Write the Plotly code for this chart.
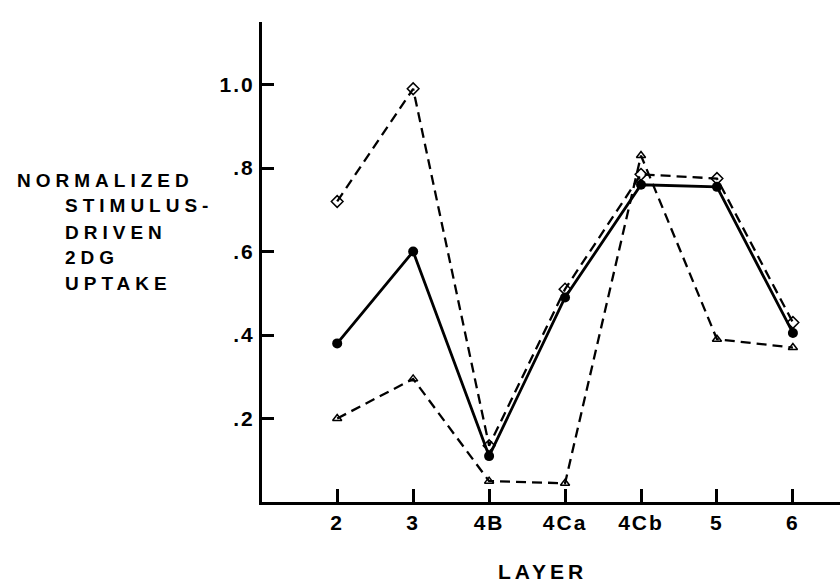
import plotly.graph_objects as go

layers = ["2", "3", "4B", "4Ca", "4Cb", "5", "6"]
mean_uptake = [0.38, 0.60, 0.11, 0.49, 0.76, 0.755, 0.405]
diamond_uptake = [0.72, 0.99, 0.135, 0.51, 0.785, 0.775, 0.43]
triangle_uptake = [0.20, 0.295, 0.05, 0.045, 0.83, 0.39, 0.37]
y_ticks = [0.2, 0.4, 0.6, 0.8, 1.0]
y_tick_labels = [".2", ".4", ".6", ".8", "1.0"]
y_title_lines = ["NORMALIZED", "STIMULUS-", "DRIVEN", "2DG", "UPTAKE"]
x_title = "LAYER"

FONT = "Liberation Sans, Arial, sans-serif"
W, H = 840, 583
L, R, T, B = 262, 0, 22, 81


def spaced(txt, px):
    return '<b><span style="letter-spacing:%spx">%s</span></b>' % (px, txt)


fig = go.Figure()
fig.add_trace(go.Scatter(
    x=layers, y=diamond_uptake, mode="lines+markers",
    line=dict(color="black", width=2.3, dash="10px,6px"),
    marker=dict(symbol="diamond-open", size=9, color="black", line=dict(width=1.5)),
    showlegend=False))
fig.add_trace(go.Scatter(
    x=layers, y=triangle_uptake, mode="lines+markers",
    line=dict(color="black", width=2.3, dash="10px,6px"),
    marker=dict(symbol="triangle-up-open", size=8, color="black", line=dict(width=1.5)),
    showlegend=False))
fig.add_trace(go.Scatter(
    x=layers, y=mean_uptake, mode="lines+markers",
    line=dict(color="black", width=2.8),
    marker=dict(symbol="circle", size=10, color="black"),
    showlegend=False))

fig.update_xaxes(
    type="category", range=[-0.99, 6.62],
    tickvals=layers, ticktext=[spaced(t, 2) for t in layers],
    showline=True, linecolor="black", linewidth=3,
    ticks="inside", ticklen=13, tickwidth=3, tickcolor="black",
    showgrid=False, zeroline=False,
    tickfont=dict(family=FONT, size=21, color="black"),
)
fig.update_yaxes(
    range=[0, 1.15], tickvals=y_ticks, ticktext=[spaced(t, 2) for t in y_tick_labels],
    showline=True, linecolor="black", linewidth=3,
    ticks="inside", ticklen=12, tickwidth=2.5, tickcolor="black",
    showgrid=False, zeroline=False,
    tickfont=dict(family=FONT, size=21, color="black"),
)

pw = W - L - R
ph = H - T - B
ann = []
line_y = [180, 205, 232, 257, 283]
line_x = [15, 63, 63, 63, 63]
for txt, px, py in zip(y_title_lines, line_x, line_y):
    ann.append(dict(text=spaced(txt, 5), xref="paper", yref="paper",
                    x=(px - L) / pw, y=(H - B - py) / ph, xanchor="left", yanchor="middle",
                    showarrow=False, font=dict(family=FONT, size=19, color="black")))
ann.append(dict(text=spaced(x_title, 4), xref="paper", yref="paper",
                x=(542 - L) / pw, y=(H - B - 571) / ph, xanchor="center", yanchor="middle",
                showarrow=False, font=dict(family=FONT, size=21, color="black")))
fig.update_layout(
    width=W, height=H, margin=dict(l=L, r=R, t=T, b=B),
    paper_bgcolor="white", plot_bgcolor="white", annotations=ann,
)
fig.write_html("out.html")
